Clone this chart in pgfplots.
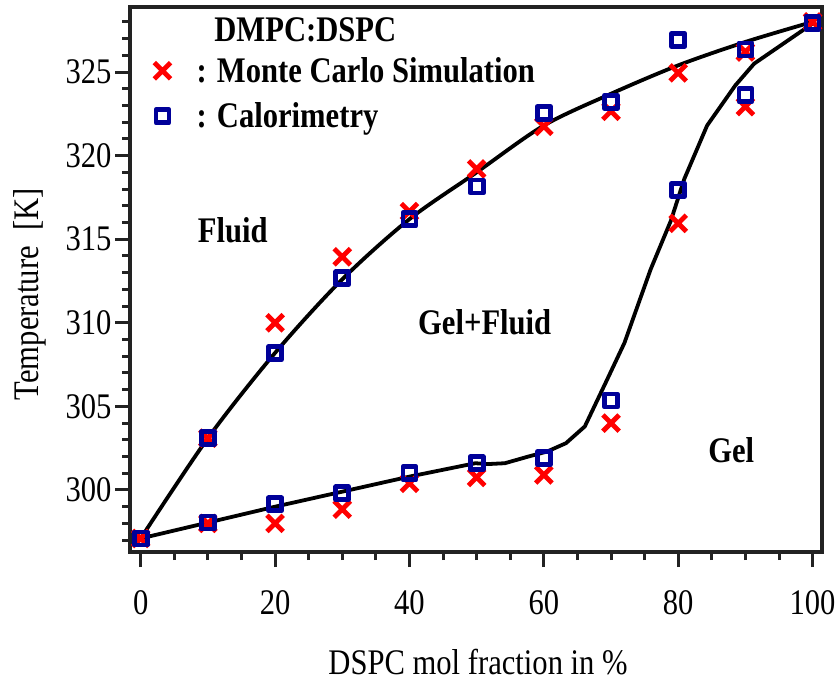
\documentclass[border=0pt]{standalone}
\usepackage{fontspec}
\setmainfont{Liberation Serif}[FakeStretch=0.85]
\usepackage{pgfplots}
\pgfplotsset{compat=1.18}
\definecolor{mblue}{RGB}{0,0,153}
\definecolor{axgray}{RGB}{34,34,34}
\newcommand{\bigf}{\fontsize{36bp}{40bp}\selectfont}
\begin{document}
\begin{tikzpicture}
\begin{axis}[
  scale only axis, width=692bp, height=545bp,
  xmin=-1.59, xmax=101.4, ymin=296.29, ymax=328.89,
  axis line style={line width=3.3bp, color=axgray},
  xtick={0,20,...,100}, minor xtick={0,5,...,100},
  ytick={300,305,...,325}, minor ytick={297,298,...,328},
  tick align=outside, xtick pos=bottom, ytick pos=left,
  major tick length=15bp, minor tick length=8bp,
  every tick/.style={line width=3bp, color=axgray},
  tick label style={font=\bigf, color=black},
  xticklabel style={yshift=-20bp},
  /pgf/number format/assume math mode=true,
  xlabel={DSPC mol fraction in \%}, ylabel={Temperature\ \ [K]},
  every axis x label/.style={at={(axis description cs:0.503,-0.202)}, anchor=center, font=\bigf},
  every axis y label/.style={at={(axis description cs:-0.1445,0.473)}, anchor=center, rotate=90, font=\bigf},
  legend style={at={(axis cs:2.0,326.0)}, anchor=north west, draw=none, fill=none,
     font=\bfseries\bigf, row sep=15bp, inner sep=0pt},
  legend cell align=left,
  legend image code/.code={\draw[#1] plot coordinates {(0bp,0bp)};},
]
% Monte Carlo simulation
\addplot[only marks, mark=x, color=red, mark size=11.5bp, line width=4.8bp]
coordinates {
(0,297.1) (10,303.1) (20,310.0) (30,313.95) (40,316.65) (50,319.2) (60,321.75) (70,322.65) (80,324.95) (90,326.2) (100,328.0)
(10,298.0) (20,298.0) (30,298.85) (40,300.4) (50,300.75) (60,300.9) (70,304.0) (80,315.95) (90,322.93)
};
\addlegendentry{\hspace{24bp}: Monte Carlo Simulation}
% Calorimetry
\addplot[only marks, mark=square, color=mblue, mark size=6.5bp, line width=4.8bp, mark options={line join=round}]
coordinates {
(0,297.1) (10,303.1) (20,308.18) (30,312.66) (40,316.2) (50,318.15) (60,322.55) (70,323.22) (80,326.92) (90,326.35) (100,327.95)
(10,298.05) (20,299.14) (30,299.8) (40,301.0) (50,301.6) (60,301.9) (70,305.35) (80,317.95) (90,323.62)
};
\addlegendentry{\hspace{24bp}: Calorimetry}
% liquidus
\addplot[black, line width=3.8bp, smooth, forget plot] coordinates {
(0,297.1) (10,303.1) (20,308.2) (30,312.6) (40,316.2) (50,319.0) (60,321.8) (70,323.7) (80,325.4) (90,326.8) (100,328.0)
};
% solidus
\addplot[black, line width=3.8bp, line join=round, forget plot] coordinates {
(0,297.1) (10,298.05) (20,299.0) (30,299.9) (40,300.8) (49.8,301.6) (51.7,301.55) (54.2,301.6) (57.7,302.0) (60.5,302.3) (63.3,302.8) (66.1,303.8) (69.3,306.5) (72,308.8) (75.9,313.2) (78.9,316.1) (80.9,318.6) (84.3,321.8) (88.5,324.2) (91.3,325.5) (100,327.9)
};
\node[font=\bfseries\bigf] at (axis cs:24.5,327.5) {DMPC:DSPC};
\node[font=\bfseries\bigf] at (axis cs:13.7,315.55) {Fluid};
\node[font=\bfseries\bigf] at (axis cs:51.2,310.05) {Gel+Fluid};
\node[font=\bfseries\bigf] at (axis cs:87.9,302.4) {Gel};
\end{axis}
\pgfresetboundingbox
\path[use as bounding box] ([shift={(-130bp,-130bp)}]current axis.south west) rectangle ([shift={(16bp,7bp)}]current axis.north east);
\end{tikzpicture}
\end{document}
